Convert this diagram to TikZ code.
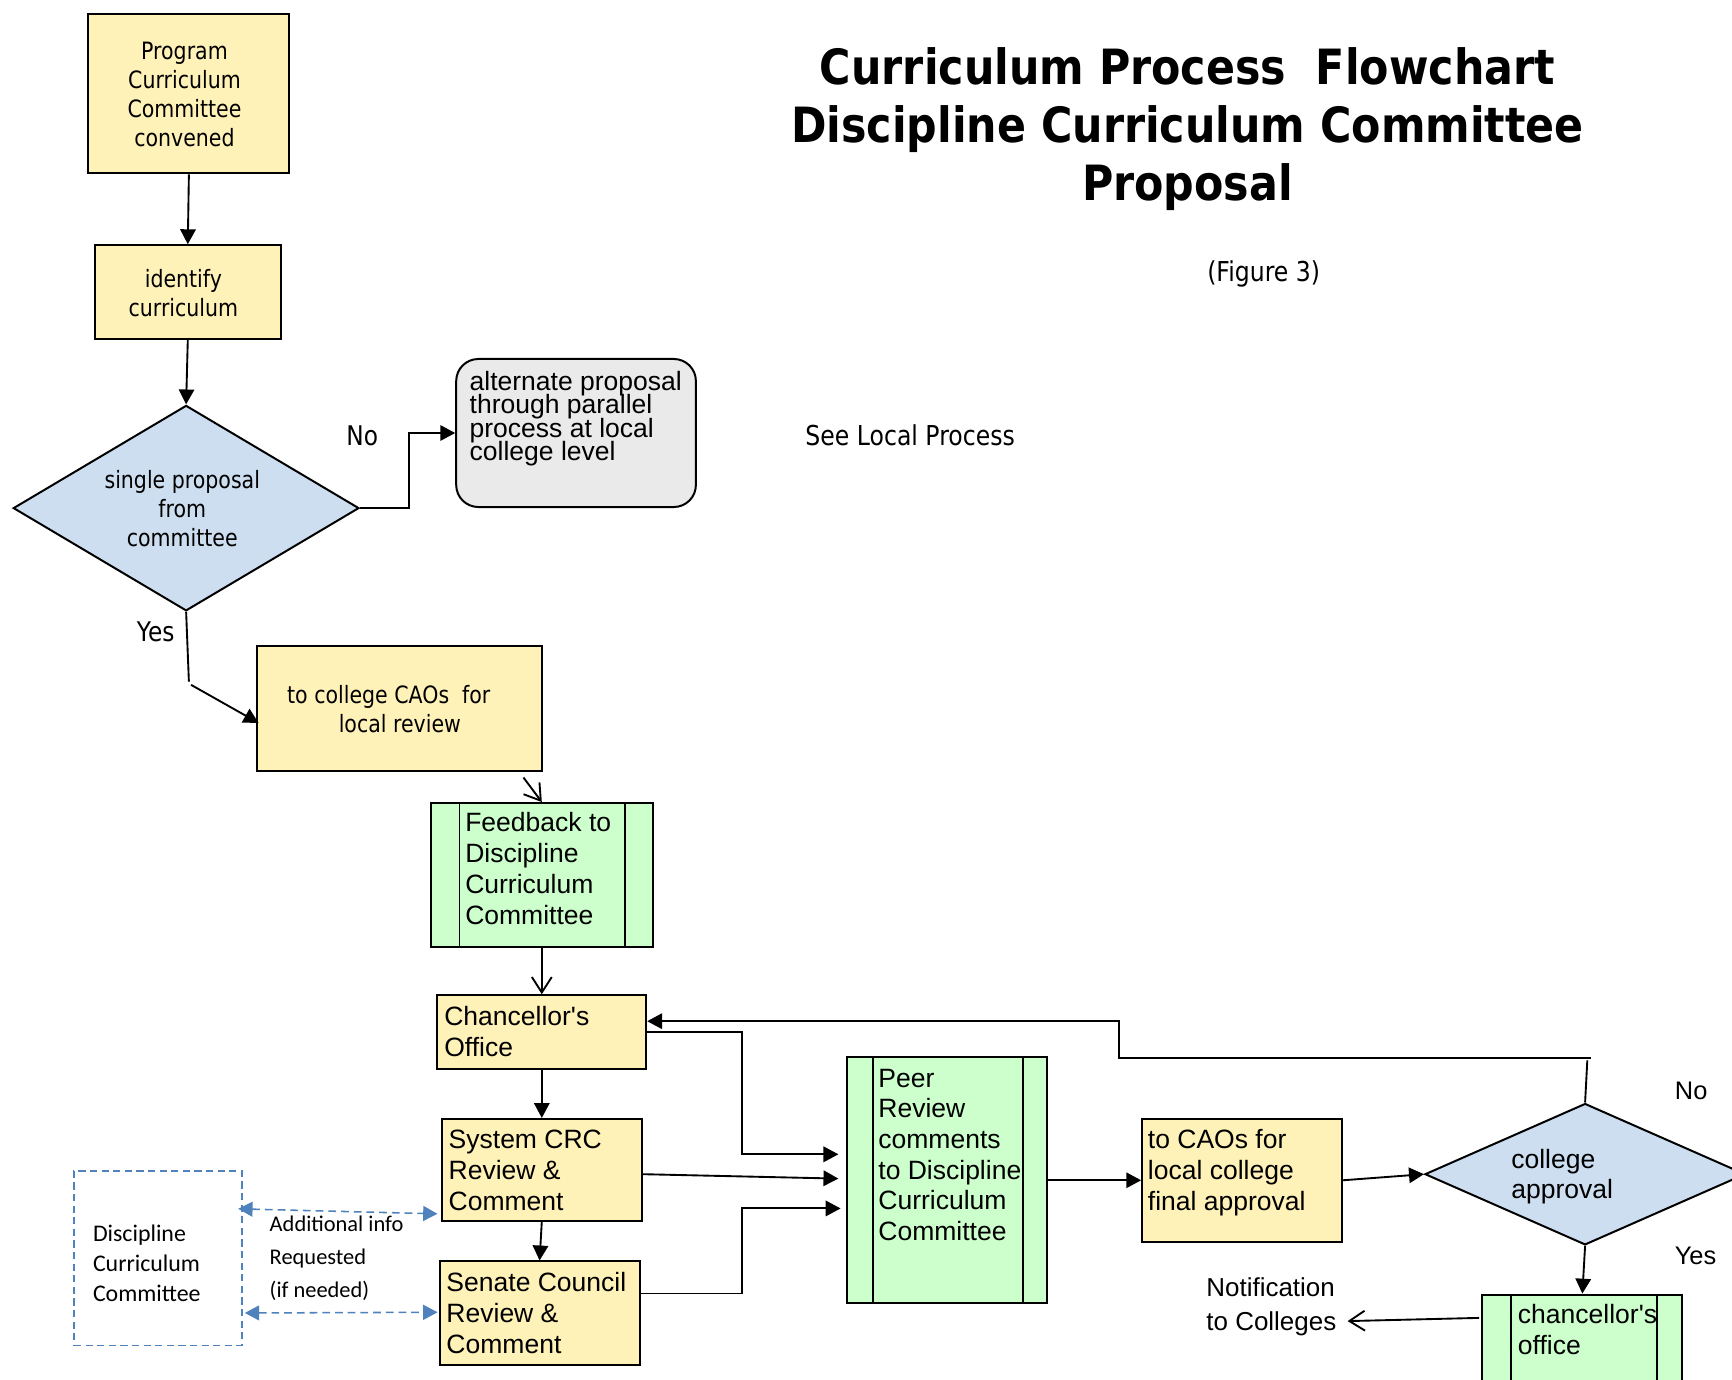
\documentclass[tikz,border=0pt]{standalone}
\usepackage{fontspec}
\setmainfont{DejaVu Sans}
\newfontfamily\tah{DejaVu Sans}[FakeStretch=0.86]
\newfontfamily\tahb{DejaVu Sans}[FakeStretch=0.88]
\newfontfamily\ari{Liberation Sans}
\newfontfamily\calfont{Carlito}
\usetikzlibrary{arrows.meta,shapes.geometric,calc}
\lineskiplimit=-100pt
% strut as tall as one baseline, so a block's top sits one baselineskip above its first baseline
\newcommand\tp{\vrule height\baselineskip depth0pt width0pt}
\definecolor{boxyellow}{HTML}{FFF2B8}
\definecolor{boxgreen}{HTML}{CCFFCC}
\definecolor{boxblue}{HTML}{CCDEF0}
\definecolor{boxgrey}{HTML}{EAEAEA}
\definecolor{dashblue}{HTML}{4F81BD}

\begin{document}
\begin{tikzpicture}[x=1pt,y=-1pt,
  box/.style={draw, line width=1.8pt, inner sep=0pt, rectangle},
  ybox/.style={box, fill=boxyellow},
  pbox/.style 2 args={box, fill=boxgreen, path picture={
      \draw[line width=1.7pt] ([xshift=#1]path picture bounding box.north west) -- ([xshift=#1]path picture bounding box.south west);
      \draw[line width=1.7pt] ([xshift=-#2]path picture bounding box.north east) -- ([xshift=-#2]path picture bounding box.south east);}},
  dia/.style={draw, line width=1.8pt, diamond, fill=boxblue, inner sep=0pt},
  link/.style={line width=1.7pt},
  arr/.style={link, -{Triangle[length=13.5pt,width=14pt]}},
  oarr/.style={link, -{Straight Barb[length=14pt,width=18pt]}},
  darr/.style={draw=dashblue, line width=1.4pt, dash pattern=on 7pt off 4.5pt,
      {Triangle[length=13pt,width=13.5pt,fill=dashblue]}-{Triangle[length=13pt,width=13.5pt,fill=dashblue]}},
  txt/.style={inner sep=0pt, align=left, anchor=north west},
  ctxt/.style={inner sep=0pt, align=center, anchor=north},
  tahfont/.style={font=\tah\fontsize{21.6}{26}\selectfont},
  tahbig/.style={font=\tah\fontsize{24.8}{30}\selectfont},
  arifont/.style={font=\ari\fontsize{24}{28}\selectfont},
]
\useasboundingbox (0,0) rectangle (1568,1249);
\fill[white] (0,0) rectangle (1568,1249);
\clip (0,0) rectangle (1568,1249);

% ---- shapes ----
\node[ybox, minimum width=182pt, minimum height=144pt] (pcc) at (171,85) {};
\node[ybox, minimum width=168pt, minimum height=85pt] (idc) at (170,264.5) {};
\node[dia, minimum width=313pt, minimum height=186pt] (single) at (168.5,460) {};
\node[box, fill=boxgrey, rounded corners=20pt, minimum width=217pt, minimum height=134pt] (alt) at (521.5,392) {};
\node[ybox, minimum width=258pt, minimum height=113pt] (cao) at (362,641.5) {};
\node[pbox={26pt}{25pt}, minimum width=201pt, minimum height=130pt] (fb) at (490.5,792) {};
\node[ybox, minimum width=189pt, minimum height=67pt] (ch) at (490.5,934.5) {};
\node[ybox, minimum width=181pt, minimum height=92pt] (sys) at (490.5,1059) {};
\node[ybox, minimum width=181pt, minimum height=94pt] (sen) at (488.5,1189) {};
\node[pbox={23pt}{22pt}, minimum width=181pt, minimum height=223pt] (peer) at (857.5,1068.5) {};
\node[ybox, minimum width=181pt, minimum height=111pt] (toc) at (1124.5,1068.5) {};
\node[dia, minimum width=290pt, minimum height=128pt] (capp) at (1435,1063) {};
\node[pbox={26pt}{23pt}, minimum width=181pt, minimum height=130pt] (co) at (1432.5,1237) {};
\node[draw=dashblue, line width=1.3pt, dash pattern=on 6.5pt off 4pt, inner sep=0pt,
      minimum width=152pt, minimum height=158pt] (dcc) at (143,1139) {};

% ---- connectors ----
\draw[arr] (pcc.south) -- (idc.north);
\draw[arr] (idc.south) -- (single.north);
\draw[arr] (single.east) -- ++(44,0) |- (alt.west);
\coordinate (ybend) at (171,617);
\coordinate (ystart) at (173,620);
\draw[link] (single.south) -- (ybend);
\draw[arr] (ystart) -- ($(cao.west)+(2,13)$);
\draw[oarr] ($(cao.south east)+(-18,5)$) -- (fb.north);
\draw[oarr] (fb.south) -- (ch.north);
\draw[arr] (ch.south) -- (sys.north);
\draw[arr] (sys.south) -- (sen.north);
\coordinate (pin1) at (759,1045);
\coordinate (pin2) at (759,1067);
\coordinate (pin3) at (761,1094);
\draw[arr] (ch.east) -| (672,1045) -- (pin1);
\draw[arr] ($(sys.east)+(0,4)$) -- (pin2);
\draw[arr] ($(sen.east)+(0,-18)$) -| (672,1094) -- (pin3);
\draw[arr] (peer.east) -- (toc.west);
\draw[arr] (toc.east) -- (capp.west);
\draw[arr] (capp.south) -- (co.north);
\coordinate (nobend) at (1437,960);
\coordinate (nostart) at (1440,958);
\draw[link] (capp.north) -- (nobend);
\draw[arr] (nostart) -- (1013,958) |- ($(ch.east)+(0,-10)$);
\coordinate (notify) at (1220,1196);
\draw[oarr] ($(co.north west)+(-2,22)$) -- (notify);
\draw[darr] ($(dcc.north east)+(-4,35)$) -- ($(sys.south west)+(-3,-7)$);
\draw[darr] ($(dcc.south east)+(2,-30)$) -- ($(sen.west)+(-1,-1)$);

% ---- texts ----
\node[ctxt, font=\tahb\bfseries\fontsize{44}{52.5}\selectfont] (title) at (1075,24)
  {\tp Curriculum Process\ \ Flowchart\\Discipline Curriculum Committee\\Proposal};
\node[tahbig, inner sep=0pt, anchor=base] (fig) at (1144,255) {(Figure 3)};
\node[tahbig, inner sep=0pt, anchor=base west] (seel) at (729,403) {See Local Process};
\node[tahfont, ctxt] (tpcc) at (167,28.1) {\tp Program\\Curriculum\\Committee\\convened};
\node[tahfont, ctxt] (tidc) at (166,234.1) {\tp identify\\curriculum};
\node[tahfont, ctxt] (tsingle) at (165,416.1) {\tp single proposal\\from\\committee};
\node[tahfont, ctxt] (tcao) at (362,611.1) {\tp to college CAOs\ \ for\hspace*{20pt}\\local review};
\node[font=\tah\fontsize{24.5}{30}\selectfont, inner sep=0pt, anchor=base] (no1) at (328,403) {No};
\node[font=\tah\fontsize{24.5}{30}\selectfont, inner sep=0pt, anchor=base] (yes1) at (141,581) {Yes};

\node[txt, font=\ari\fontsize{24}{21.3}\selectfont] (talt) at (425,331.6)
  {\tp alternate proposal\\through parallel\\process at local\\college level};
\node[txt, arifont] (tfb) at (421,724.9) {\tp Feedback to\\Discipline\\Curriculum\\Committee};
\node[txt, arifont] (tch) at (402,899.9) {\tp Chancellor\textquotesingle s\\Office};
\node[txt, arifont] (tsys) at (406,1011.9) {\tp System CRC\\Review \&\\Comment};
\node[txt, arifont] (tsen) at (404,1140.9) {\tp Senate Council\\Review \&\\Comment};
\node[txt, font=\ari\fontsize{24}{27.8}\selectfont] (tpeer) at (795,956.1)
  {\tp Peer\\Review\\comments\\to Discipline\\Curriculum\\Committee};
\node[txt, arifont] (ttoc) at (1039,1011.9) {\tp to CAOs for\\local college\\final approval};
\node[txt, font=\ari\fontsize{24}{27}\selectfont] (tcapp) at (1368,1030.9) {\tp college\\approval};
\node[txt, arifont] (tco) at (1374,1169.9) {\tp chancellor\textquotesingle s\\office};
\node[txt, font=\ari\fontsize{23.5}{31}\selectfont] (tnot) at (1092,1142.6) {\tp Notification\\to Colleges};
\node[font=\ari\fontsize{23}{28}\selectfont, inner sep=0pt, anchor=base] (no2) at (1531,995.6) {No};
\node[font=\ari\fontsize{23}{28}\selectfont, inner sep=0pt, anchor=base] (yes2) at (1535,1144.6) {Yes};

\node[txt, font=\calfont\fontsize{21.6}{27}\selectfont] (tdcc) at (84,1097.1) {\tp Discipline\\Curriculum\\Committee};
\node[txt, font=\calfont\fontsize{20.3}{30}\selectfont] (tadd) at (244,1084.7) {\tp Additional info\\Requested\\(if needed)};
\end{tikzpicture}
\end{document}
